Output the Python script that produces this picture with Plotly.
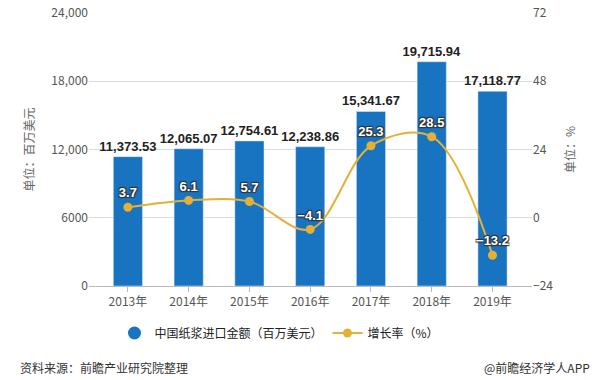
import plotly.graph_objects as go

years = ["2013年", "2014年", "2015年", "2016年", "2017年", "2018年", "2019年"]
amount = [11373.53, 12065.07, 12754.61, 12238.86, 15341.67, 19715.94, 17118.77]
growth = [3.7, 6.1, 5.7, -4.1, 25.3, 28.5, -13.2]
left_ticks = [0, 6000, 12000, 18000, 24000]
left_labels = ["0", "6000", "12,000", "18,000", "24,000"]
right_ticks = [-24, 0, 24, 48, 72]

FONT = "Noto Sans CJK SC, Microsoft YaHei, sans-serif"
NUMFONT = "Liberation Sans, Arial, sans-serif"
BLUE = "#1874c1"
GOLD = "#e6b037"

W, H = 603, 380
L, R, T, B = 89, 71, 13, 94
PW, PH = W - L - R, H - T - B

fig = go.Figure()
fig.add_trace(go.Bar(
    x=years, y=amount, name="中国纸浆进口金额（百万美元）",
    marker_color=BLUE, width=0.48, showlegend=False,
    text=[f"{v:,.2f}" for v in amount], textposition="outside",
    constraintext="none",
    textfont=dict(size=13, color="#222", family=NUMFONT, weight="bold"),
    cliponaxis=False,
))
fig.add_trace(go.Scatter(
    x=[None], y=[None], name="中国纸浆进口金额（百万美元）", mode="markers",
    marker=dict(color=BLUE, size=13, symbol="circle"),
))
fig.add_trace(go.Scatter(
    x=years, y=growth, name="增长率（%）", yaxis="y2",
    mode="lines+markers+text",
    line=dict(color=GOLD, width=2, shape="spline", smoothing=1.0),
    marker=dict(color=GOLD, size=9),
    text=[f"{v}" if v >= 0 else f"−{abs(v)}" for v in growth],
    textposition="top center",
    textfont=dict(size=13, color="white", family=NUMFONT, weight="bold",
                  shadow="1px 1px 1px #333, -1px -1px 1px #333, 1px -1px 1px #333, -1px 1px 1px #333"),
    cliponaxis=False,
))

fig.update_layout(
    width=W, height=H,
    margin=dict(l=L, r=R, t=T, b=B, autoexpand=False),
    paper_bgcolor="white", plot_bgcolor="white",
    font=dict(family=FONT, color="#555", size=11),
    showlegend=True,
    legend=dict(orientation="h", x=0.43, xanchor="center",
                yref="container", y=(H - 333) / H, yanchor="middle",
                font=dict(size=12, color="#222", family=FONT),
                traceorder="normal"),
    xaxis=dict(type="category", range=[-0.64, 6.65], showgrid=False,
               showline=True, linecolor="#bbb", ticks="outside", ticklen=5,
               tickcolor="#bbb", tickfont=dict(size=12, color="#555")),
    yaxis=dict(range=[0, 24000], tickvals=left_ticks, ticktext=left_labels,
               showgrid=True, gridcolor="#dcdcdc", zeroline=False,
               tickfont=dict(size=12, color="#555"),
               title=dict(text="单位：百万美元", font=dict(size=12, color="#666"), standoff=14)),
    yaxis2=dict(range=[-24, 72], tickvals=right_ticks, overlaying="y", side="right",
                showgrid=False, zeroline=False,
                tickfont=dict(size=12, color="#555"),
                title=dict(text="单位：%", font=dict(size=12, color="#666"), standoff=14)),
)

fy = -(367 - (H - B)) / PH
fig.add_annotation(text="资料来源：前瞻产业研究院整理", xref="paper", yref="paper",
                   x=(18 - L) / PW, y=fy, xanchor="left", yanchor="middle",
                   showarrow=False, font=dict(size=12, color="#333", family=FONT))
fig.add_annotation(text="@前瞻经济学人APP", xref="paper", yref="paper",
                   x=(592 - L) / PW, y=fy, xanchor="right", yanchor="middle",
                   showarrow=False, font=dict(size=12, color="#333", family=FONT))

fig.write_html("out.html", config={"displayModeBar": False},
               post_script="document.body.style.margin='0';")
